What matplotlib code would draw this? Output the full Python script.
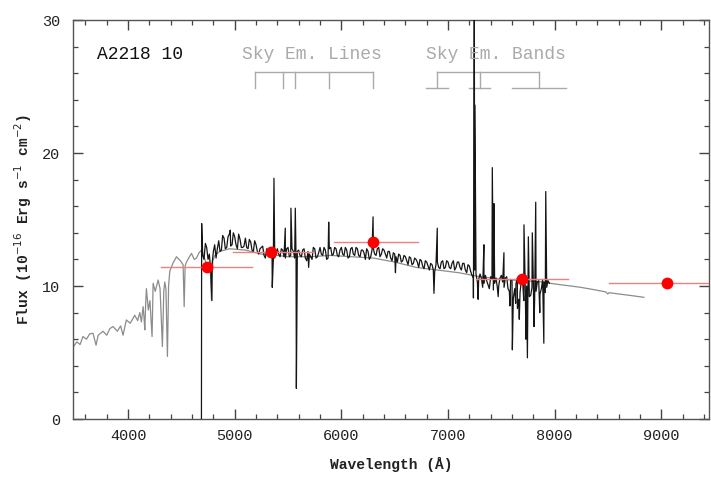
import numpy as np
import matplotlib
matplotlib.use("Agg")
import matplotlib.pyplot as plt

# ---------------- data ----------------
# template (grey) spectrum
tmpl_wave = [3484, 3520, 3550, 3577, 3610, 3640, 3671, 3700, 3720, 3765, 3800, 3830,
             3859, 3900, 3930, 3953, 3984, 4020, 4063, 4090, 4110, 4125, 4141, 4150,
             4157, 4165, 4172, 4190, 4205, 4225, 4235, 4255, 4282, 4300, 4322, 4335,
             4344, 4355, 4369, 4380, 4391, 4420, 4454, 4490, 4516, 4526, 4535, 4548,
             4575, 4595, 4620, 4642, 4665, 4689, 4720, 4751, 4770, 4782, 4795, 4813,
             4860, 4950, 5100, 5250, 5400, 5500, 5700, 5900, 6100, 6300, 6500, 6700,
             6900, 7100, 7300, 7500, 7700, 7900, 7962, 8050, 8150, 8244, 8350, 8450,
             8480, 8498, 8510, 8600, 8700, 8836]
tmpl_flux = [5.4, 5.8, 5.6, 6.2, 6.0, 6.4, 6.45, 5.55, 6.3, 6.6, 6.3, 6.8,
             6.95, 6.6, 7.0, 6.3, 7.45, 7.2, 7.8, 7.4, 8.0, 7.3, 8.45, 7.6,
             6.7, 8.6, 9.8, 8.2, 8.9, 6.2, 10.2, 9.6, 10.45, 9.8, 5.45, 9.6,
             10.3, 9.8, 4.7, 10.0, 11.1, 11.7, 12.2, 11.9, 11.6, 8.45, 11.5, 11.8,
             12.2, 12.45, 12.0, 12.1, 12.5, 12.7, 12.0, 11.2, 11.5, 8.95, 11.9, 12.3,
             12.6, 12.8, 12.7, 12.4, 12.3, 12.2, 12.2, 12.3, 12.2, 12.1, 11.8, 11.4,
             11.2, 11.0, 10.7, 10.5, 10.4, 10.3, 10.2, 10.1, 10.0, 9.9, 9.75, 9.6,
             9.55, 9.4, 9.5, 9.4, 9.3, 9.15]

# observed (black) spectrum, sampled continuum
obs_wave = [4700, 4725, 4750, 4775, 4800, 4825, 4850, 4875, 4900, 4925, 4950, 4975,
            5000, 5025, 5050, 5075, 5100, 5125, 5150, 5175, 5200, 5225, 5250, 5275,
            5300, 5325, 5350, 5375, 5400, 5425, 5450, 5475, 5500, 5525, 5550, 5575,
            5600, 5625, 5650, 5675, 5700, 5725, 5750, 5775, 5800, 5825, 5850, 5875,
            5900, 5925, 5950, 5975, 6000, 6025, 6050, 6075, 6100, 6125, 6150, 6175,
            6200, 6225, 6250, 6275, 6300, 6325, 6350, 6375, 6400, 6425, 6450, 6475,
            6500, 6525, 6550, 6575, 6600, 6625, 6650, 6675, 6700, 6725, 6750, 6775,
            6800, 6825, 6850, 6875, 6900, 6925, 6950, 6975, 7000, 7025, 7050, 7075,
            7100, 7125, 7150, 7175, 7200, 7225, 7250, 7275, 7300, 7325, 7350, 7375,
            7400, 7425, 7450, 7475, 7500, 7525, 7550, 7575, 7600, 7625, 7650, 7675,
            7700, 7725, 7750, 7775, 7800, 7825, 7850, 7875, 7900, 7925, 7950]
obs_flux = [12.3, 13.2, 12.0, 11.2, 12.6, 12.1, 13.4, 12.7, 13.6, 12.9, 13.9, 13.1,
            13.7, 12.8, 13.5, 12.9, 13.6, 12.8, 13.3, 12.6, 13.1, 12.4, 12.9, 12.3,
            12.8, 12.2, 12.6, 12.1, 12.8, 12.2, 12.7, 12.1, 12.9, 12.3, 12.6, 12.0,
            12.7, 12.2, 12.8, 11.9, 12.4, 12.0, 12.8, 12.2, 12.9, 12.3, 12.7, 12.1,
            12.9, 12.4, 12.8, 12.2, 12.9, 12.3, 12.7, 12.2, 12.9, 12.3, 12.8, 12.2,
            12.7, 12.0, 12.6, 12.2, 12.8, 12.3, 12.9, 12.4, 12.7, 12.1, 12.6, 11.9,
            12.4, 11.8, 12.3, 11.9, 12.2, 11.6, 12.1, 11.7, 12.0, 11.4, 11.9, 11.3,
            11.8, 11.2, 11.6, 11.1, 11.8, 11.3, 11.9, 11.4, 11.8, 11.3, 11.9, 11.4,
            11.8, 11.2, 11.7, 11.0, 11.5, 10.8, 11.2, 10.3, 10.9, 9.9, 10.8, 10.1,
            10.7, 9.7, 10.6, 10.0, 10.8, 9.9, 10.7, 9.6, 10.4, 9.8, 10.6, 9.5,
            10.3, 9.4, 10.4, 9.3, 10.2, 9.6, 10.4, 9.8, 10.3, 9.9, 10.2]

# intermediate samples of the observed spectrum
obs_wave2 = [4712, 4737, 4762, 4787, 4812, 4837, 4862, 4887, 4912, 4937, 4962, 4987,
             5012, 5037, 5062, 5087, 5112, 5137, 5162, 5187, 5212, 5237, 5262, 5287,
             5312, 5337, 5362, 5387, 5412, 5437, 5462, 5487, 5512, 5537, 5562, 5587,
             5612, 5637, 5662, 5687, 5712, 5737, 5762, 5787, 5812, 5837, 5862, 5887,
             5912, 5937, 5962, 5987, 6012, 6037, 6062, 6087, 6112, 6137, 6162, 6187,
             6212, 6237, 6262, 6287, 6312, 6337, 6362, 6387, 6412, 6437, 6462, 6487,
             6512, 6537, 6562, 6587, 6612, 6637, 6662, 6687, 6712, 6737, 6762, 6787,
             6812, 6837, 6862, 6887, 6912, 6937, 6962, 6987, 7012, 7037, 7062, 7087,
             7112, 7137, 7162, 7187, 7212, 7237, 7262, 7287, 7312, 7337, 7362, 7387,
             7412, 7437, 7462, 7487, 7512, 7537, 7562, 7587, 7612, 7637, 7662, 7687,
             7710, 7737, 7762, 7787, 7812, 7837, 7862, 7887, 7912, 7937]
obs_flux2 = [12.0, 12.9, 12.4, 11.6, 13.1, 12.8, 12.6, 13.8, 12.8, 13.7, 13.0, 14.0,
             13.1, 13.9, 12.9, 13.0, 12.9, 13.5, 12.7, 13.4, 12.6, 12.8, 13.0, 12.1,
             12.6, 12.8, 12.0, 12.5, 12.4, 12.8, 12.2, 12.8, 12.2, 12.8, 12.1, 12.6,
             12.3, 12.7, 12.1, 12.6, 12.2, 12.9, 12.1, 12.5, 12.4, 12.9, 12.0, 12.8,
             12.3, 12.9, 12.3, 12.7, 12.4, 12.9, 12.1, 12.8, 12.4, 12.9, 12.3, 12.7,
             12.5, 12.8, 12.0, 12.7, 12.4, 12.8, 12.2, 12.8, 12.4, 12.6, 12.1, 12.5,
             12.2, 12.4, 11.8, 12.3, 11.9, 12.2, 11.6, 12.1, 11.8, 12.0, 11.5, 11.9,
             11.5, 11.7, 11.2, 11.6, 11.4, 11.8, 11.3, 11.9, 11.4, 11.7, 11.2, 11.8,
             11.4, 11.7, 11.2, 11.6, 11.1, 10.6, 10.9, 10.5, 10.6, 10.2, 10.4, 9.8,
             10.5, 10.2, 9.9, 10.6, 10.3, 10.6, 9.8, 10.5, 9.1, 10.2, 9.0, 10.4,
             8.9, 10.0, 9.2, 9.9, 9.0, 10.3, 9.4, 10.5, 9.5, 10.4]

# sky-line residual spikes / dips in the observed spectrum
spike_wave = [4688, 4690, 4786, 4958, 5352, 5368, 5474, 5527, 5568, 5578, 5693, 5881,
              6297, 6507, 6868, 6899, 7238, 7246, 7252, 7282, 7336, 7415, 7430, 7470,
              7524, 7580, 7603, 7634, 7650, 7668, 7712, 7730, 7744, 7753, 7790, 7806,
              7822, 7860, 7898, 7916]
spike_flux = [0.0, 14.7, 8.9, 14.2, 9.9, 18.1, 14.35, 15.85, 15.85, 2.3, 11.4, 14.8,
              15.2, 11.0, 9.45, 14.35, 9.1, 31.0, 23.6, 9.0, 13.1, 18.9, 16.2, 9.2,
              12.5, 8.5, 5.2, 8.7, 8.3, 7.5, 14.6, 6.0, 4.6, 13.7, 14.0, 6.95,
              16.3, 8.0, 5.7, 17.1]

# broad-band photometry
phot_wave = [4742, 5343, 6300, 7690, 9052]
phot_flux = [11.4, 12.55, 13.3, 10.5, 10.2]
phot_lo = [4310, 4980, 5930, 7258, 8507]
phot_hi = [5164, 5720, 6723, 8122, 9600]

# sky emission markers
sky_lines = [5192, 5455, 5568, 5887, 6300]
sky_band_ticks = [6901, 7296, 7850]
sky_band_lo = [6789, 7192, 7596]
sky_band_hi = [6995, 7390, 8103]

xticks = [4000, 5000, 6000, 7000, 8000, 9000]
yticks = [0, 10, 20, 30]

# ---------------- plot ----------------
mono = "Liberation Mono"
fig = plt.figure(figsize=(7.11, 4.82), dpi=100)
ax = fig.add_axes([0.1027, 0.1307, 0.895, 0.8278])

ax.plot(tmpl_wave, tmpl_flux, color="#8c8c8c", lw=0.9, zorder=2)

ow = np.array(obs_wave + obs_wave2 + spike_wave, dtype=float)
of = np.array(obs_flux + obs_flux2 + spike_flux, dtype=float)
order = np.argsort(ow, kind="stable")
ax.plot(ow[order], of[order], color="#151515", lw=0.9, zorder=3)

for lo, hi, y in zip(phot_lo, phot_hi, phot_flux):
    ax.plot([lo, hi], [y, y], color="#ee8080", lw=1.0, zorder=4, clip_on=True)
ax.plot(phot_wave, phot_flux, "o", color="#ff0000", ms=8.5, mec="none", zorder=5)

grey = "#aaaaaa"
ytop, ybot = 26.1, 24.9
ax.plot([sky_lines[0], sky_lines[-1]], [ytop, ytop], color=grey, lw=1.0)
for w in sky_lines:
    ax.plot([w, w], [ytop, ybot], color=grey, lw=1.0)
ax.plot([sky_band_ticks[0], sky_band_ticks[-1]], [ytop, ytop], color=grey, lw=1.0)
for w in sky_band_ticks:
    ax.plot([w, w], [ytop, ybot], color=grey, lw=1.0)
for lo, hi in zip(sky_band_lo, sky_band_hi):
    ax.plot([lo, hi], [ybot, ybot], color=grey, lw=1.0)

ax.text(0.5 * (sky_lines[0] + sky_lines[-1]) - 20, 27.4, "Sky Em. Lines", color=grey,
        fontsize=13, family=mono, ha="center", va="center")
ax.text(0.5 * (sky_band_lo[0] + sky_band_hi[-1]), 27.4, "Sky Em. Bands", color=grey,
        fontsize=13, family=mono, ha="center", va="center")
ax.text(3709, 27.4, "A2218 10", color="#111111", fontsize=13, family=mono,
        ha="left", va="center")

ax.set_xlim(3484, 9450)
ax.set_ylim(0, 30)
ax.set_xticks(xticks)
ax.set_yticks(yticks)
ax.set_xticks(np.arange(3600, 9500, 200), minor=True)
ax.set_yticks(np.arange(0, 31, 2), minor=True)
ax.tick_params(which="both", direction="in", top=True, right=True, colors="#444444",
               labelcolor="#222222", labelsize=11)
ax.tick_params(which="major", length=7, width=1.0)
ax.tick_params(axis="x", which="major", pad=7)
ax.tick_params(axis="y", which="major", pad=9)
ax.tick_params(which="minor", length=3.5, width=0.9)
for lab in ax.get_xticklabels() + ax.get_yticklabels():
    lab.set_family(mono)
for s in ax.spines.values():
    s.set_color("#555555")
    s.set_linewidth(1.0)

ax.set_xlabel("Wavelength (Å)", family=mono, fontsize=10.5, fontweight="bold",
              color="#222222", labelpad=10)
ax.set_ylabel(r"Flux (10$^{-16}$ Erg s$^{-1}$ cm$^{-2}$)", family=mono, fontsize=10.5,
              fontweight="bold", color="#222222", labelpad=6)

fig.savefig("out.png", dpi=100)
